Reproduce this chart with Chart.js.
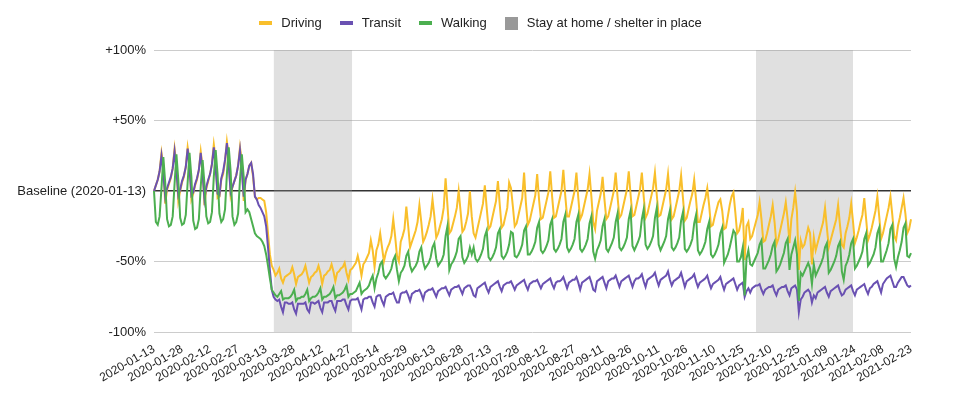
<!DOCTYPE html>
<html>
<head>
<meta charset="utf-8">
<script src="https://cdn.jsdelivr.net/npm/chart.js@4.4.1/dist/chart.umd.min.js"></script>
<style>
  body { margin: 0; background: #fff; font-family: Arial, "Liberation Sans", sans-serif; }
  #wrap { position: relative; width: 961px; height: 395px; }
  #legend {
    position: absolute; top: 16px; left: 0; width: 961px;
    display: flex; justify-content: center; align-items: center;
    font-size: 13px; color: #222; line-height: 14px;
  }
  .item { display: flex; align-items: center; margin: 0 9px; }
  .mark { width: 13px; height: 4px; margin-right: 9px; }
  .mark.box { height: 13px; margin-right: 9px; }
</style>
</head>
<body>
<div id="wrap">
  <canvas id="chart" width="961" height="395"></canvas>
  <div id="legend"></div>
</div>
<script>
// categories: daily dates, Apple did not publish 2020-05-11 / 2020-05-12
const startDate = "2020-01-13";
const endDate = "2021-02-23";
const missingDates = ["2020-05-11", "2020-05-12"];

// stay at home periods (first and last day shaded)
const shelterPeriods = [["2020-03-17", "2020-04-28"], ["2020-12-02", "2021-01-23"]];

const yTicks = [-100, -50, 0, 50, 100];

// % change vs baseline, one row per week (Mon..Sun)
const driving = [
  0, 4, 8, 14, 27, 18, -9,
  1, 5, 9, 16, 30, 19, -7,
  0, 6, 10, 17, 31, 22, -6,
  -2, 4, 8, 15, 28, 17, -10,
  2, 7, 12, 19, 33, 23, -5,
  -4, 8, 12, 21, 35, 25, -3,
  3, 7, 11, 18, 31, 21, -7,
  8, 12, 18, 20, 10, -4, -6,
  -5, -5, -6, -7, -15, -30, -45,
  -53, -56, -60, -58, -55, -62, -65,
  -61, -60, -59, -58, -54, -59, -66,
  -61, -60, -59, -57, -53, -59, -65,
  -61, -60, -58, -57, -53, -58, -66,
  -60, -59, -57, -56, -52, -57, -64,
  -58, -57, -55, -54, -51, -58, -63,
  -56, -55, -53, -51, -46, -52, -60,
  -52, -50, -47, -44, -35, -42, -54,
  -42, -38, -30, -40, -50,
  -44, -40, -37, -32, -20, -32, -46,
  -50, -36, -32, -27, -11, -25, -40,
  -36, -32, -28, -22, -10, -22, -36,
  -33, -29, -24, -18, -6, -18, -33,
  -30, -25, -20, -12, 9, -10, -30,
  -28, -23, -18, -12, 0, -14, -29,
  -27, -22, -16, 0, -18, -30, -33,
  -27, -21, -15, -9, 4, -12, -27,
  -25, -19, -13, -7, 7, -10, -26,
  -24, -18, -12, 6, 2, -11, -25,
  -23, -17, -11, -5, 13, -9, -24,
  -21, -15, -9, -3, 12, -6, -20,
  -19, -13, -7, -1, 14, -4, -19,
  -18, -12, -6, 0, 15, -3, -18,
  -18, -12, -6, 0, 13, -5, -20,
  -17, -11, -5, 1, 12, -4, -22,
  -27, -14, -8, -2, 10, -6, -20,
  -18, -12, -6, 0, 13, -4, -19,
  -17, -11, -5, 1, 14, -3, -18,
  -17, -11, -5, 1, 13, -4, -19,
  -16, -10, -4, 2, 13, -3, -18,
  -17, -11, -5, 1, 12, -4, -20,
  -18, -12, -6, 0, 11, -5, -21,
  -19, -13, -7, -2, 8, -6, -22,
  -22, -16, -10, -5, 2, -10, -25,
  -24, -18, -13, -8, -6, -14, -27,
  -26, -18, -10, -4, -1, -15, -30,
  -28, -22, -12, -49, -25, -22, -34,
  -32, -27, -22, -17, -8, -20, -36,
  -35, -30, -24, -18, -10, -22, -38,
  -34, -28, -22, -16, -8, -20, -37,
  -20, -12, -1, -15, -56, -35, -40,
  -38, -32, -26, -30, -52, -33, -42,
  -37, -32, -27, -22, -12, -26, -40,
  -35, -30, -25, -20, -10, -24, -38,
  -40, -30, -25, -19, -9, -22, -37,
  -33, -28, -22, -17, -5, -20, -35,
  -31, -26, -20, -14, -4, -18, -34,
  -30, -24, -18, -12, -4, -17, -32,
  -35, -25, -19, -12, -5, -16, -30,
  -27, -20
];

const transit = [
  0, 4, 8, 14, 25, 12, -4,
  2, 6, 10, 16, 28, 14, -3,
  1, 7, 11, 17, 30, 16, -3,
  -1, 5, 9, 15, 27, 12, -6,
  3, 8, 12, 19, 31, 16, -2,
  -3, 9, 14, 22, 34, 18, -1,
  3, 7, 11, 18, 29, 14, -4,
  8, 12, 18, 20, 12, -4, -6,
  -10, -12, -15, -18, -25, -40, -56,
  -70, -75, -77, -78, -77, -82, -86,
  -79, -79, -80, -80, -79, -84, -87,
  -80, -80, -80, -80, -79, -84, -86,
  -79, -79, -80, -79, -78, -83, -86,
  -79, -79, -79, -78, -78, -82, -85,
  -78, -78, -78, -77, -77, -81, -84,
  -78, -77, -77, -77, -76, -80, -84,
  -77, -76, -76, -75, -75, -79, -82,
  -75, -74, -74, -78, -81,
  -75, -74, -73, -73, -72, -76, -79,
  -79, -73, -72, -72, -71, -74, -78,
  -73, -72, -71, -71, -70, -73, -77,
  -72, -71, -70, -70, -69, -72, -75,
  -71, -70, -69, -69, -68, -71, -74,
  -70, -69, -68, -68, -67, -70, -73,
  -69, -68, -67, -67, -70, -74, -75,
  -69, -68, -67, -66, -65, -69, -72,
  -68, -67, -66, -65, -64, -68, -71,
  -67, -66, -65, -65, -64, -67, -70,
  -67, -66, -65, -64, -63, -67, -70,
  -66, -65, -64, -64, -63, -66, -69,
  -66, -65, -64, -63, -62, -66, -69,
  -65, -64, -64, -63, -61, -65, -69,
  -65, -64, -63, -63, -61, -65, -70,
  -65, -64, -63, -62, -61, -65, -70,
  -71, -64, -63, -62, -61, -65, -69,
  -64, -63, -62, -62, -60, -64, -68,
  -64, -63, -62, -61, -60, -64, -68,
  -64, -62, -62, -61, -59, -64, -68,
  -63, -62, -61, -60, -58, -63, -67,
  -63, -62, -61, -60, -57, -63, -67,
  -64, -63, -62, -61, -58, -63, -68,
  -64, -63, -62, -61, -59, -64, -68,
  -65, -64, -63, -62, -60, -65, -69,
  -66, -65, -64, -63, -61, -66, -70,
  -66, -65, -64, -63, -62, -66, -70,
  -67, -66, -65, -75, -71, -69, -72,
  -69, -68, -67, -67, -66, -70, -73,
  -70, -69, -68, -68, -67, -71, -74,
  -70, -69, -68, -68, -67, -71, -74,
  -69, -68, -67, -70, -86, -77, -75,
  -72, -71, -70, -72, -79, -74, -76,
  -72, -71, -70, -69, -68, -72, -75,
  -71, -70, -69, -68, -67, -71, -74,
  -73, -70, -69, -68, -67, -71, -74,
  -70, -69, -68, -67, -66, -70, -73,
  -69, -68, -66, -65, -64, -68, -72,
  -66, -64, -62, -61, -60, -64, -68,
  -68, -65, -63, -61, -61, -64, -67,
  -68, -67
];

const walking = [
  0, -22, -24, -18, 2, 24, 6,
  -20, -25, -24, -18, 5, 26, 8,
  -19, -24, -23, -17, 6, 27, 10,
  -21, -27, -26, -20, 3, 22, 5,
  -18, -23, -22, -15, 10, 29, 12,
  -16, -22, -20, -13, 12, 31, 14,
  -18, -24, -22, -16, 8, 26, 10,
  -15, -13, -15, -20, -25, -30, -32,
  -33, -34, -36, -39, -45, -53, -62,
  -70, -72, -74, -75, -73, -71, -77,
  -76, -76, -76, -75, -73, -70, -78,
  -76, -76, -75, -75, -73, -70, -78,
  -76, -75, -75, -74, -72, -69, -77,
  -75, -75, -74, -73, -71, -68, -76,
  -74, -74, -73, -72, -70, -67, -75,
  -73, -73, -72, -71, -68, -65, -73,
  -71, -70, -69, -67, -63, -60, -69,
  -62, -58, -52, -50, -60,
  -62, -60, -58, -55, -49, -46, -56,
  -64, -58, -56, -53, -46, -43, -53,
  -57, -55, -53, -50, -43, -40, -50,
  -55, -53, -51, -47, -40, -37, -48,
  -53, -51, -49, -45, -32, -25, -56,
  -52, -50, -47, -43, -34, -32, -47,
  -51, -49, -46, -40, -45, -40, -48,
  -50, -48, -45, -41, -32, -28, -47,
  -49, -47, -44, -40, -30, -27, -46,
  -48, -46, -43, -38, -29, -30, -46,
  -47, -45, -42, -38, -28, -25, -45,
  -45, -43, -40, -36, -26, -22, -42,
  -44, -42, -39, -35, -24, -20, -41,
  -43, -41, -38, -34, -22, -17, -40,
  -43, -41, -38, -34, -22, -17, -41,
  -43, -41, -38, -34, -23, -18, -43,
  -48, -42, -39, -35, -25, -20, -41,
  -43, -40, -37, -33, -22, -16, -40,
  -42, -40, -37, -33, -20, -14, -39,
  -42, -39, -36, -32, -20, -13, -38,
  -41, -39, -36, -32, -19, -12, -38,
  -42, -39, -36, -32, -20, -14, -40,
  -42, -40, -37, -33, -21, -15, -41,
  -43, -41, -38, -34, -23, -17, -42,
  -45, -43, -40, -36, -27, -22, -45,
  -47, -45, -42, -38, -30, -26, -51,
  -48, -45, -40, -34, -28, -30, -50,
  -50, -47, -40, -74, -48, -42, -52,
  -53, -50, -47, -44, -38, -35, -55,
  -55, -52, -49, -45, -39, -36, -57,
  -55, -52, -48, -44, -37, -34, -56,
  -45, -40, -35, -45, -78, -58, -60,
  -57, -54, -51, -55, -66, -52, -60,
  -57, -54, -51, -47, -40, -37, -58,
  -56, -53, -50, -46, -39, -36, -57,
  -63, -53, -50, -45, -37, -34, -55,
  -53, -50, -47, -43, -34, -30, -53,
  -51, -48, -45, -40, -30, -26, -50,
  -50, -46, -42, -37, -27, -24, -48,
  -54, -47, -42, -36, -26, -23, -46,
  -47, -44
];

const seriesNames = ["Driving", "Transit", "Walking"];
const seriesColors = ["#f9bf2b", "#6a51b2", "#4caf50"];
const shelterName = "Stay at home / shelter in place";
const shelterColor = "#999999";

function buildLabels() {
  const out = [];
  const d = new Date(startDate + "T00:00:00Z");
  const end = new Date(endDate + "T00:00:00Z");
  while (d <= end) {
    const key = d.toISOString().slice(0, 10);
    if (!missingDates.includes(key)) out.push(key);
    d.setUTCDate(d.getUTCDate() + 1);
  }
  return out;
}

const labels = buildLabels();
const shelter = labels.map((day) =>
  shelterPeriods.some(([from, to]) => day >= from && day <= to) ? 100 : null
);

// html legend, google style
const legend = document.getElementById("legend");
seriesNames.forEach((name, i) => {
  legend.insertAdjacentHTML("beforeend",
    `<div class="item"><span class="mark" style="background:${seriesColors[i]}"></span>${name}</div>`);
});
legend.insertAdjacentHTML("beforeend",
  `<div class="item"><span class="mark box" style="background:${shelterColor}"></span>${shelterName}</div>`);

const lineSet = (label, data, color, order) => ({
  label,
  data,
  borderColor: color,
  backgroundColor: color,
  borderWidth: 2,
  pointRadius: 0,
  tension: 0,
  fill: false,
  order
});

new Chart(document.getElementById("chart"), {
  type: "line",
  data: {
    labels,
    datasets: [
      lineSet(seriesNames[0], driving, seriesColors[0], 3),
      lineSet(seriesNames[1], transit, seriesColors[1], 2),
      lineSet(seriesNames[2], walking, seriesColors[2], 1),
      {
        label: shelterName,
        data: shelter,
        borderWidth: 0,
        pointRadius: 0,
        backgroundColor: "rgba(153, 153, 153, 0.3)",
        fill: { value: -100 },
        spanGaps: false,
        order: 10
      }
    ]
  },
  options: {
    responsive: false,
    animation: false,
    layout: { padding: { top: 50, right: 50, left: 0, bottom: 0 } },
    plugins: { legend: { display: false }, tooltip: { enabled: false } },
    scales: {
      x: {
        offset: false,
        grid: { display: false },
        border: { display: false },
        ticks: {
          autoSkip: false,
          minRotation: 30,
          maxRotation: 30,
          padding: 2,
          color: "#222",
          font: { family: "Arial, 'Liberation Sans', sans-serif", size: 12 },
          callback(value, index) {
            return index % 15 === 0 ? this.getLabelForValue(value) : null;
          }
        },
        afterFit(scale) { scale.height = 63; }
      },
      y: {
        min: yTicks[0],
        max: yTicks[yTicks.length - 1],
        afterBuildTicks(scale) { scale.ticks = yTicks.map((v) => ({ value: v })); },
        grid: {
          drawTicks: false,
          color: (c) => (c.tick && c.tick.value === 0 ? "#333333" : "#cccccc"),
          lineWidth: (c) => (c.tick && c.tick.value === 0 ? 1.5 : 1)
        },
        border: { display: false },
        ticks: {
          padding: 8,
          color: "#222",
          font: { family: "Arial, 'Liberation Sans', sans-serif", size: 13 },
          callback: (v) => (v === 0 ? "Baseline (2020-01-13)" : (v > 0 ? "+" : "") + v + "%")
        },
        afterFit(scale) { scale.width = 154; }
      }
    }
  }
});
</script>
</body>
</html>
